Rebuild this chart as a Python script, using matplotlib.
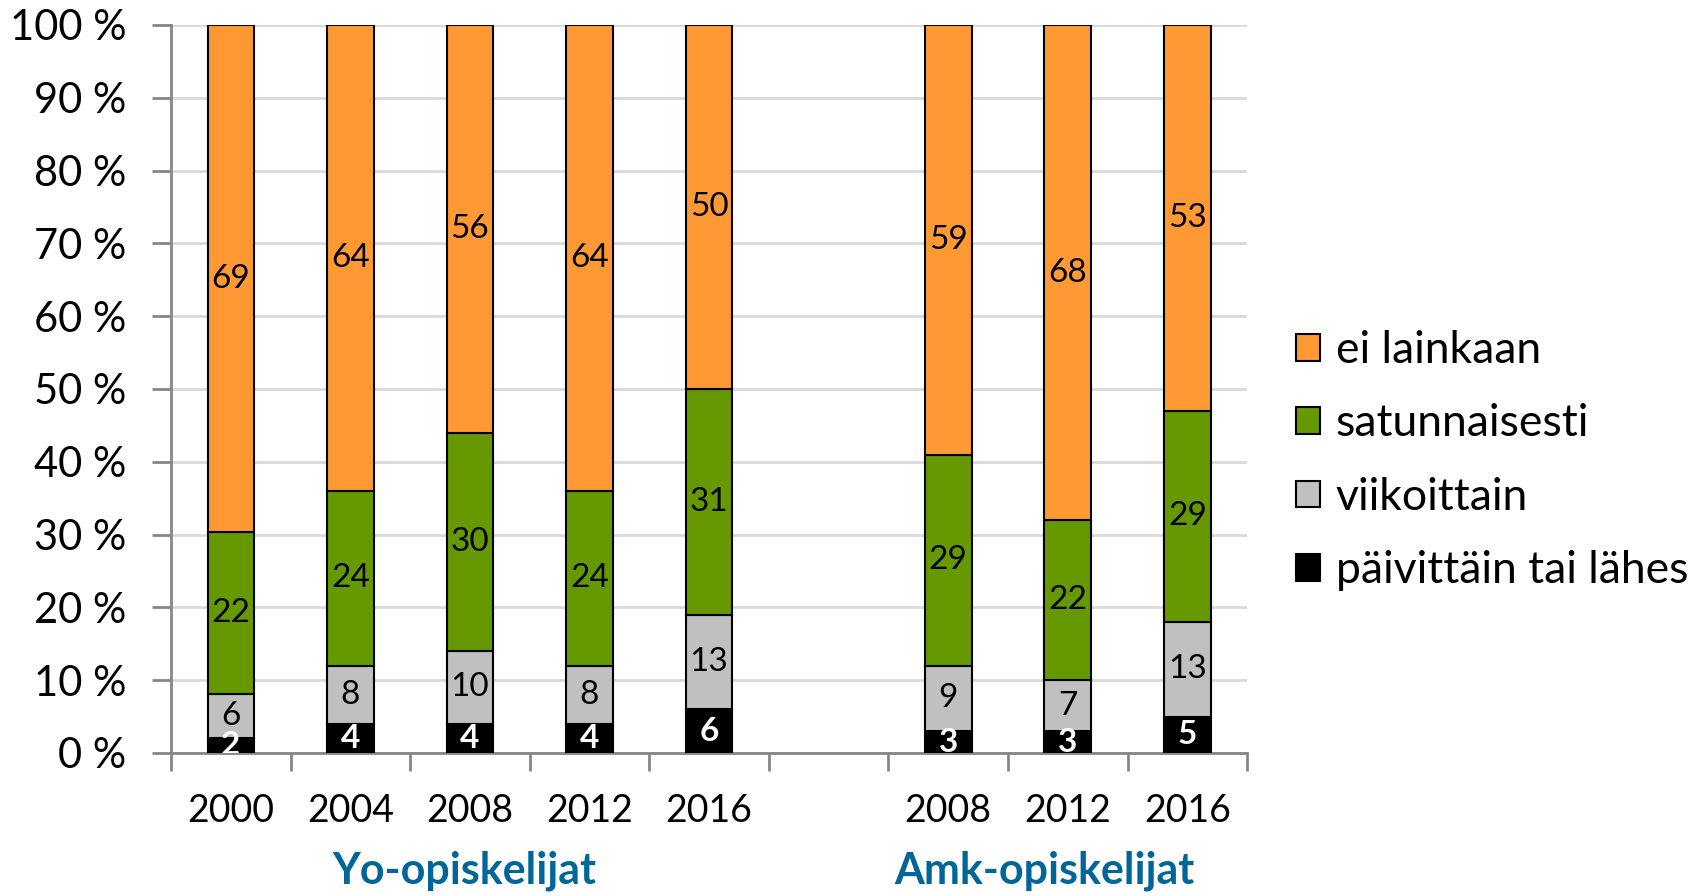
import matplotlib
matplotlib.use("Agg")
import matplotlib.pyplot as plt
from matplotlib.patches import Patch
import numpy as np

plt.rcParams['font.family'] = ['Lato', 'DejaVu Sans']

# data (percent)
years = ["2000", "2004", "2008", "2012", "2016", "2008", "2012", "2016"]
positions = [0, 1, 2, 3, 4, 6, 7, 8]
daily = [2, 4, 4, 4, 6, 3, 3, 5]
weekly = [6, 8, 10, 8, 13, 9, 7, 13]
occasional = [22, 24, 30, 24, 31, 29, 22, 29]
never = [69, 64, 56, 64, 50, 59, 68, 53]

series_names = ["päivittäin tai lähes", "viikoittain", "satunnaisesti", "ei lainkaan"]
colors = ["#000000", "#C0C0C0", "#669900", "#FF9933"]
groups = ["Yo-opiskelijat", "Amk-opiskelijat"]

fig = plt.figure(figsize=(17.07, 8.96), dpi=100)
ax = fig.add_axes([0.1002, 0.1596, 0.6304, 0.8125])

data = np.array([daily, weekly, occasional, never], dtype=float)
totals = data.sum(axis=0)
shares = data / totals * 100

bottom = np.zeros(len(positions))
for i in range(4):
    ax.bar(positions, shares[i], 0.39, bottom=bottom, color=colors[i],
           edgecolor="black", linewidth=1.5, zorder=3)
    for j, p in enumerate(positions):
        yc = bottom[j] + shares[i][j] / 2
        if i == 0:
            ax.text(p, yc, str(int(data[i][j])), ha="center", va="center",
                    fontsize=24, color="white", fontweight="bold",
                    zorder=4, clip_on=True)
        else:
            ax.text(p, yc, str(int(data[i][j])), ha="center", va="center",
                    fontsize=24, color="black", zorder=4)
    bottom += shares[i]

ax.set_xlim(-0.5, 8.5)
ax.set_ylim(0, 100)
ax.set_yticks(np.arange(0, 101, 10))
ax.set_yticklabels([f"{v} %" for v in range(0, 101, 10)], fontsize=30)
ax.yaxis.grid(True, color="#D9D9D9", linewidth=2, zorder=0)
ax.set_axisbelow(True)

ax.set_xticks(positions)
ax.set_xticklabels(years, fontsize=27)
ax.set_xticks(np.arange(-0.5, 8.6, 1), minor=True)
ax.tick_params(axis="x", which="major", length=0, pad=29)
ax.tick_params(axis="x", which="minor", length=13, width=2, color="#868686")
ax.tick_params(axis="y", length=14, width=2, color="#868686", pad=18)

for s in ["top", "right"]:
    ax.spines[s].set_visible(False)
for s in ["left", "bottom"]:
    ax.spines[s].set_color("#868686")
    ax.spines[s].set_linewidth(2)

# group labels
ax.text(1.95, -16.2, groups[0], ha="center", va="center", fontsize=31,
        fontweight="bold", color="#006699")
ax.text(6.8, -16.2, groups[1], ha="center", va="center", fontsize=31,
        fontweight="bold", color="#006699")

handles = [Patch(facecolor=colors[i], edgecolor="black", linewidth=1.5,
                 label=series_names[i]) for i in [3, 2, 1, 0]]
fig.legend(handles=handles, loc="center left", bbox_to_anchor=(0.746, 0.486),
           frameon=False, fontsize=32, handlelength=0.55, handleheight=0.55,
           handletextpad=0.35, labelspacing=0.73, borderpad=0)

fig.savefig("out.png", dpi=100)
